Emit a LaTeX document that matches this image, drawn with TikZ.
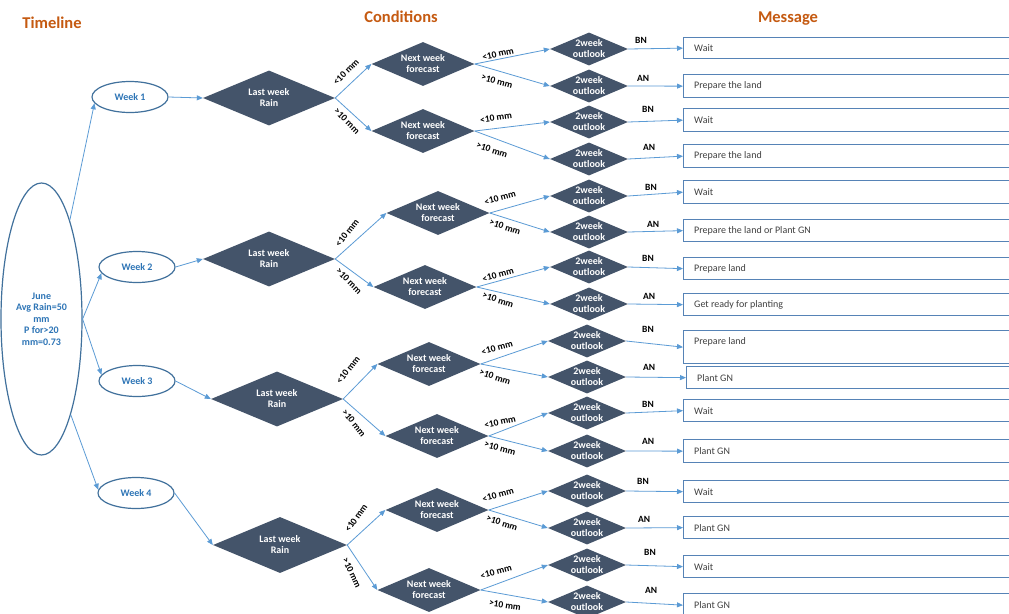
\documentclass[tikz,border=0pt]{standalone}
\usepackage{fontspec}
\setmainfont{Carlito}
\usetikzlibrary{shapes.geometric,arrows.meta}
\definecolor{dslate}{HTML}{44546A}
\definecolor{connc}{HTML}{5B9BD5}
\definecolor{ellb}{HTML}{41719C}
\definecolor{elltext}{HTML}{2E75B6}
\definecolor{headc}{HTML}{C55A11}
\definecolor{boxb}{HTML}{5683B6}
\definecolor{boxt}{HTML}{404040}
\tikzset{
  head/.style={font=\fontsize{16.5}{19}\selectfont\bfseries, text=headc, inner sep=0pt},
  jun/.style={ellipse, draw=ellb, line width=1.2pt, minimum width=81pt, minimum height=272pt, inner sep=1pt, align=center, text=elltext, font=\fontsize{10}{11.5}\selectfont\bfseries},
  wk/.style={ellipse, draw=ellb, line width=1.2pt, minimum width=76pt, minimum height=31pt, inner sep=1pt, text=elltext, font=\fontsize{10}{11}\selectfont\bfseries},
  dshape/.style={diamond, fill=dslate, draw=none, inner sep=0pt},
  dtext/.style={text=white, align=center, inner sep=0pt, font=\fontsize{10}{11}\selectfont\bfseries},
  lab/.style={font=\fontsize{9.5}{10}\selectfont\bfseries, inner sep=0pt},
  mbox/.style={draw=boxb, line width=1.3pt, anchor=north west, minimum width=340pt, inner sep=0pt},
  mtext/.style={anchor=west, text=boxt, font=\fontsize{10}{11}\selectfont, inner sep=0pt},
  arr/.style={draw=connc, line width=0.8pt, -{Triangle[length=6pt,width=5pt]}}
}
\newcommand\dmd[5]{%
  \node[dshape, minimum width=#3pt, minimum height=#4pt] (#1) at (#2) {};
  \node[dtext] (#1t) at (#1) {#5};
}
\begin{document}
\begin{tikzpicture}[x=1pt, y=-1pt]
\clip (0,0) rectangle (1009,613);
\fill[white] (0,0) rectangle (1009,613);

% headings
\node[head] (hT) at (52,23) {Timeline};
\node[head] (hC) at (401,17) {Conditions};
\node[head] (hM) at (788,19) {Message};

% timeline
\node[jun] (june) at (41.5,319) {June\\Avg Rain=50\\mm\\P for>20\\mm=0.73};
\node[wk] (w1) at (130,97) {Week 1};
\node[wk] (w2) at (137,267) {Week 2};
\node[wk] (w3) at (137,381) {Week 3};
\node[wk] (w4) at (136,493) {Week 4};

% last week rain
\dmd{l1}{269,98}{132}{55}{Last week\\Rain}
\dmd{l2}{269,259}{132}{55}{Last week\\Rain}
\dmd{l3}{277,399}{132}{55}{Last week\\Rain}
\dmd{l4}{280,545}{134}{56}{Last week\\Rain}

% next week forecast
\dmd{n1a}{423,64}{103}{44}{Next week\\forecast}
\dmd{n1b}{423,131}{103}{44}{Next week\\forecast}
\dmd{n2a}{438,213}{103}{44}{Next week\\forecast}
\dmd{n2b}{425,287}{103}{44}{Next week\\forecast}
\dmd{n3a}{429,364}{103}{44}{Next week\\forecast}
\dmd{n3b}{437,436}{103}{44}{Next week\\forecast}
\dmd{n4a}{437,510}{103}{44}{Next week\\forecast}
\dmd{n4b}{429,590}{103}{44}{Next week\\forecast}

% 2week outlook
\foreach \i/\x/\y in {1/589/49,2/589/86,3/589/122,4/589/159,5/589/196,6/589/232,7/589/267,8/589/304,9/587/341,10/587/377,11/587/413,12/587/451,13/587/491,14/587/528,15/587/565,16/587/602}{
  \dmd{o\i}{\x,\y}{78}{33}{2week\\outlook}
}

% message boxes
\foreach \i/\x/\t/\h in {1/683/37/21,2/683/74/23,3/683/108/23,4/683/144/23,5/683/180/23,6/683/219/22,7/683/257/22,8/683/293/22,9/683/330/33,10/686/366/22,11/683/399/22,12/683/439/23,13/683/480/22,14/683/516/22,15/683/555/22,16/683/593/23}{
  \node[mbox, minimum height=\h pt] (m\i) at (\x,\t) {};
}
\node[mtext] (m1t) at ([xshift=11pt]m1.west) {Wait};
\node[mtext] (m2t) at ([xshift=11pt]m2.west) {Prepare the land};
\node[mtext] (m3t) at ([xshift=11pt]m3.west) {Wait};
\node[mtext] (m4t) at ([xshift=11pt]m4.west) {Prepare the land};
\node[mtext] (m5t) at ([xshift=11pt]m5.west) {Wait};
\node[mtext] (m6t) at ([xshift=11pt]m6.west) {Prepare the land or Plant GN};
\node[mtext] (m7t) at ([xshift=11pt]m7.west) {Prepare land};
\node[mtext] (m8t) at ([xshift=11pt]m8.west) {Get ready for planting};
\node[mtext] (m9t) at (694,342) {Prepare land};
\node[mtext] (m10t) at ([xshift=11pt]m10.west) {Plant GN};
\node[mtext] (m11t) at ([xshift=11pt]m11.west) {Wait};
\node[mtext] (m12t) at ([xshift=11pt]m12.west) {Plant GN};
\node[mtext] (m13t) at ([xshift=11pt]m13.west) {Wait};
\node[mtext] (m14t) at ([xshift=11pt]m14.west) {Plant GN};
\node[mtext] (m15t) at ([xshift=11pt]m15.west) {Wait};
\node[mtext] (m16t) at ([xshift=11pt]m16.west) {Plant GN};

% connectors: timeline
\draw[arr] (june.74) -- (w1.190);
\draw[arr] (june.east) -- (w2.190);
\draw[arr] (june.east) -- (w3.170);
\draw[arr] (june.-73) -- (w4.175);
\draw[arr] (w1.east) -- (l1.west);
\draw[arr] (w2.east) -- (l2.west);
\draw[arr] (w3.east) -- (l3.west);
\draw[arr] (w4.east) -- (l4.west);

% last week rain -> next week forecast
\draw[arr] (l1.east) -- (n1a.west);
\draw[arr] (l1.east) -- (n1b.west);
\draw[arr] (l2.east) -- (n2a.west);
\draw[arr] (l2.east) -- (n2b.west);
\draw[arr] (l3.east) -- (n3a.west);
\draw[arr] (l3.east) -- (n3b.west);
\draw[arr] (l4.east) -- (n4a.west);
\draw[arr] (l4.east) -- (n4b.west);

% next week forecast -> outlook
\draw[arr] (n1a.east) -- (o1.west);
\draw[arr] (n1a.east) -- (o2.west);
\draw[arr] (n1b.east) -- (o3.west);
\draw[arr] (n1b.east) -- (o4.west);
\draw[arr] (n2a.east) -- (o5.west);
\draw[arr] (n2a.east) -- (o6.west);
\draw[arr] (n2b.east) -- (o7.west);
\draw[arr] (n2b.east) -- (o8.west);
\draw[arr] (n3a.east) -- (o9.west);
\draw[arr] (n3a.east) -- (o10.west);
\draw[arr] (n3b.east) -- (o11.west);
\draw[arr] (n3b.east) -- (o12.west);
\draw[arr] (n4a.east) -- (o13.west);
\draw[arr] (n4a.east) -- (o14.west);
\draw[arr] (n4b.east) -- (o15.west);
\draw[arr] (n4b.east) -- (o16.west);

% outlook -> message
\foreach \i in {1,...,16}{ \draw[arr] (o\i.east) -- (m\i.west); }

% labels: last week rain branches
\node[lab, rotate=45] (a1) at (346,72) {<10 mm};
\node[lab, rotate=-45] (b1) at (347,121) {>10 mm};
\node[lab, rotate=52] (a2) at (347,233) {<10 mm};
\node[lab, rotate=-45] (b2) at (349,281) {>10 mm};
\node[lab, rotate=52] (a3) at (348,370) {<10 mm};
\node[lab, rotate=-52] (b3) at (354,423) {>10 mm};
\node[lab, rotate=55] (a4) at (356,518) {<10 mm};
\node[lab, rotate=-65] (b4) at (352,573) {>10 mm};

% labels: forecast branches
\node[lab, rotate=12] (c1) at (498,54) {<10 mm};
\node[lab, rotate=-15] (d1) at (497,81) {>10 mm};
\node[lab, rotate=8] (c2) at (496,118) {<10 mm};
\node[lab, rotate=-18] (d2) at (492,150) {>10 mm};
\node[lab, rotate=15] (c3) at (500,198) {<10 mm};
\node[lab, rotate=-18] (d3) at (505,227) {>10 mm};
\node[lab, rotate=15] (c4) at (498,275) {<10 mm};
\node[lab, rotate=-18] (d4) at (498,300) {>10 mm};
\node[lab, rotate=15] (c5) at (497,348) {<10 mm};
\node[lab, rotate=-18] (d5) at (495,377) {>10 mm};
\node[lab, rotate=12] (c6) at (500,422) {<10 mm};
\node[lab, rotate=-15] (d6) at (500,448) {>10 mm};
\node[lab, rotate=15] (c7) at (498,495) {<10 mm};
\node[lab, rotate=-18] (d7) at (502,523) {>10 mm};
\node[lab, rotate=15] (c8) at (496,572) {<10 mm};
\node[lab, rotate=-8] (d8) at (505,605) {>10 mm};

% BN / AN labels
\node[lab] (e1) at (641,40) {BN};
\node[lab] (e2) at (643,78) {AN};
\node[lab] (e3) at (648,109) {BN};
\node[lab] (e4) at (649,147) {AN};
\node[lab] (e5) at (651,187) {BN};
\node[lab] (e6) at (653,224) {AN};
\node[lab] (e7) at (648,258) {BN};
\node[lab] (e8) at (649,296) {AN};
\node[lab] (e9) at (648,329) {BN};
\node[lab] (e10) at (649,367) {AN};
\node[lab] (e11) at (648,404) {BN};
\node[lab] (e12) at (648,441) {AN};
\node[lab] (e13) at (643,481) {BN};
\node[lab] (e14) at (644,519) {AN};
\node[lab] (e15) at (650,552) {BN};
\node[lab] (e16) at (651,590) {AN};
\end{tikzpicture}
\end{document}
